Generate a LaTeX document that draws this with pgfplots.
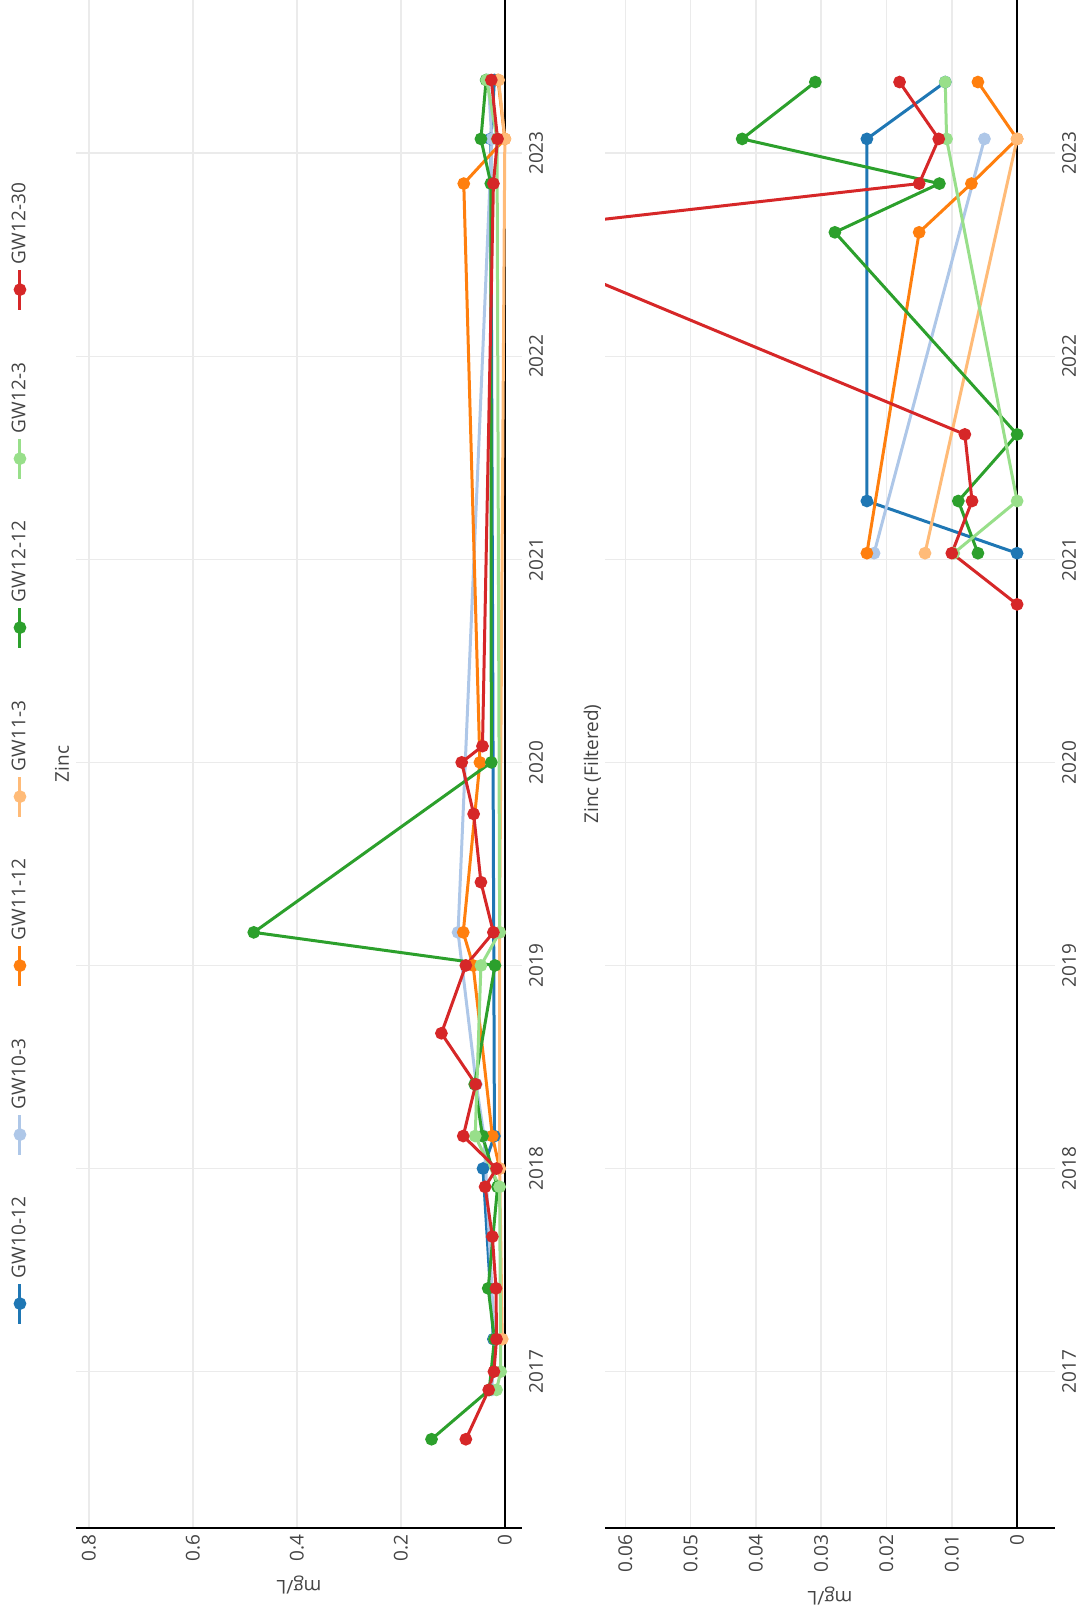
\documentclass[border=0pt]{standalone}
\usepackage{fontspec}
\setmainfont{Open Sans}
\usepackage{pgfplots}
\pgfplotsset{compat=1.18}
\definecolor{cA}{HTML}{1F77B4}
\definecolor{cB}{HTML}{AEC7E8}
\definecolor{cC}{HTML}{FF7F0E}
\definecolor{cD}{HTML}{FFBB78}
\definecolor{cE}{HTML}{2CA02C}
\definecolor{cF}{HTML}{98DF8A}
\definecolor{cG}{HTML}{D62728}
\definecolor{txt}{HTML}{444444}
\pgfplotsset{
  zbase/.style={
    scale only axis, width=764pt,
    xmin=2016.230, xmax=2023.754,
    xtick={2017,2018,2019,2020,2021,2022,2023},
    xticklabels={2017,2018,2019,2020,2021,2022,2023},
    axis x line*=bottom, axis y line*=left,
    x axis line style={draw=none},
    y axis line style={black, line width=0.7pt, -},
    major tick length=0pt,
    grid=major,
    major grid style={color=black!8, line width=0.7pt},
    extra y ticks={0}, extra y tick labels={},
    extra y tick style={grid=major, major grid style={black, line width=0.7pt}},
    tick label style={font=\fontsize{9.5}{11}\selectfont, color=txt},
    /pgf/number format/assume math mode=true,
    scaled y ticks=false,
    ylabel={mg/L},
    ylabel style={font=\fontsize{9.5}{11}\selectfont, color=txt},
    title style={font=\fontsize{9.5}{11}\selectfont, color=txt, at={(axis description cs:0.5,1)}, anchor=base, yshift=-2.5pt},
    every axis plot/.append style={line width=1.5pt, mark=*, mark size=2.4pt, mark options={solid}},
    clip=true,
  },
}
\begin{document}
\begin{tikzpicture}[rotate=90, transform shape]
\begin{axis}[zbase, at={(43pt,279.5pt)}, anchor=south west, height=223pt,
  ymin=-0.033, ymax=0.825,
  ytick={0,0.2,0.4,0.6,0.8}, yticklabels={0,0.2,0.4,0.6,0.8},
  title={Zinc},
  legend columns=-1,
  legend style={at={(axis description cs:0.1325,1.1256)}, anchor=west, draw=none, fill=none,
    inner sep=0pt, font=\fontsize{9.5}{11}\selectfont, text=txt,
    nodes={inner sep=2pt}},
  legend image code/.code={\draw[#1, mark repeat=2, mark phase=2] plot coordinates {(0pt,0pt) (10pt,0pt) (20pt,0pt)};},
]
\addplot[color=cA] coordinates {(2017.16,0.022) (2018.0,0.042) (2018.16,0.02) (2023.07,0.027) (2023.36,0.02)};
\addlegendentry{\makebox[59pt][l]{GW10-12}}
\addplot[color=cB] coordinates {(2016.91,0.025) (2017.16,0.02) (2018.16,0.04) (2018.415,0.055) (2019.163,0.09) (2023.07,0.025) (2023.36,0.032)};
\addlegendentry{\makebox[59pt][l]{GW10-3}}
\addplot[color=cC] coordinates {(2018.0,0.01) (2018.16,0.024) (2019.0,0.061) (2019.163,0.080) (2020.0,0.048) (2022.85,0.079) (2023.07,0.0) (2023.36,0.013)};
\addlegendentry{\makebox[59pt][l]{GW11-12}}
\addplot[color=cD] coordinates {(2017.16,0.005) (2018.0,0.01) (2019.163,0.01) (2023.07,0.0) (2023.36,0.012)};
\addlegendentry{\makebox[59pt][l]{GW11-3}}
\addplot[color=cE] coordinates {(2016.667,0.141) (2016.91,0.03) (2017.16,0.02) (2017.41,0.032) (2017.91,0.014) (2018.16,0.043) (2018.415,0.058) (2019.0,0.019) (2019.163,0.483) (2020.0,0.026) (2022.85,0.027) (2023.07,0.046) (2023.36,0.036)};
\addlegendentry{\makebox[59pt][l]{GW12-12}}
\addplot[color=cF] coordinates {(2016.91,0.016) (2017.0,0.008) (2017.91,0.01) (2018.16,0.057) (2019.0,0.046) (2019.163,0.01) (2023.07,0.015) (2023.36,0.035)};
\addlegendentry{\makebox[59pt][l]{GW12-3}}
\addplot[color=cG] coordinates {(2016.667,0.075) (2016.91,0.031) (2017.0,0.021) (2017.16,0.016) (2017.41,0.017) (2017.665,0.024) (2017.91,0.038) (2018.0,0.016) (2018.16,0.080) (2018.415,0.056) (2018.666,0.122) (2019.0,0.075) (2019.163,0.022) (2019.41,0.046) (2019.746,0.060) (2020.0,0.083) (2020.08,0.043) (2022.85,0.022) (2023.07,0.014) (2023.36,0.026)};
\addlegendentry{\makebox[59pt][l]{GW12-30}}
\end{axis}
\begin{axis}[zbase, at={(43pt,13pt)}, anchor=south west, height=225pt,
  ymin=-0.0058, ymax=0.0631,
  ytick={0,0.01,0.02,0.03,0.04,0.05,0.06}, yticklabels={0,0.01,0.02,0.03,0.04,0.05,0.06},
  title={Zinc (Filtered)},
]
\addplot[color=cA] coordinates {(2021.03,0) (2021.287,0.023) (2023.07,0.023) (2023.35,0.011)};
\addplot[color=cB] coordinates {(2021.03,0.0219) (2023.07,0.005)};
\addplot[color=cC] coordinates {(2021.03,0.023) (2022.61,0.015) (2022.85,0.007) (2023.07,0.0) (2023.35,0.006)};
\addplot[color=cD] coordinates {(2021.03,0.0141) (2023.07,0.0)};
\addplot[color=cE] coordinates {(2021.03,0.006) (2021.287,0.009) (2021.615,0.0) (2022.61,0.0279) (2022.85,0.0119) (2023.07,0.0421) (2023.35,0.0309)};
\addplot[color=cF] coordinates {(2021.03,0.0097) (2021.287,0.0) (2023.07,0.0108) (2023.35,0.011)};
\addplot[color=cG] coordinates {(2020.778,0.0) (2021.03,0.0100) (2021.287,0.0069) (2021.615,0.0080) (2022.606,0.082) (2022.85,0.0150) (2023.07,0.0120) (2023.35,0.0180)};
\end{axis}
\pgfresetboundingbox
\path[use as bounding box] (0pt,0pt) rectangle (807pt,540.5pt);
\end{tikzpicture}
\end{document}
